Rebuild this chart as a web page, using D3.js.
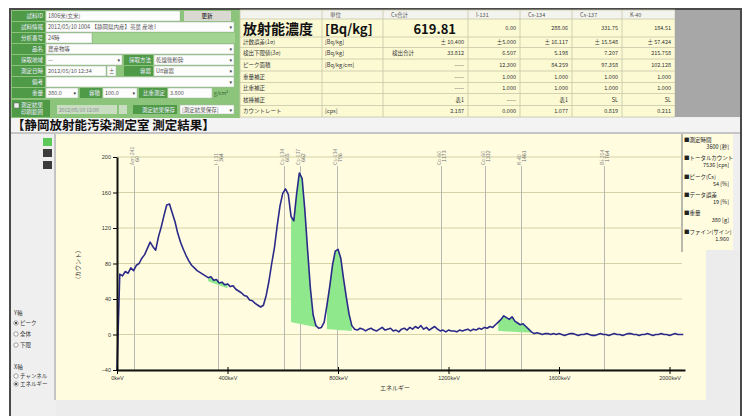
<!DOCTYPE html>
<meta charset="utf-8">
<style>
  body { margin: 0; background: #fff; }
  svg { display: block; font-family: "Noto Sans CJK JP", "DejaVu Sans", sans-serif; }
</style>
<body>
<script src="https://d3js.org/d3.v7.min.js"></script>
<script>

// ---- data ----

// gamma spectrum, counts per 10 keV channel (0 .. 2050 keV)
var channelKeV = 10;
var spectrumCounts = [
  -40, 68, 66, 71, 69, 75, 72, 78, 80, 86,
  90, 97, 104, 99, 95, 110, 121, 134, 146, 147,
  137, 127, 114, 104, 96, 89, 83, 78, 75, 72,
  70, 68, 66, 64, 65, 61, 62, 58, 59, 56,
  57, 54, 55, 51, 49, 47, 44, 43, 39, 38,
  35, 33, 31, 33, 44, 60, 80, 98, 123, 145,
  159, 164, 158, 133, 128, 158, 182, 176, 140, 95,
  52, 22, 10, 7, 8, 14, 33, 54, 78, 94,
  96, 86, 63, 42, 23, 10, 6, 5, 7, 6,
  4, 6, 7, 5, 4, 6, 8, 5, 6, 7,
  4, 5, 3, 6, 7, 5, 8, 6, 9, 7,
  10, 6, 8, 5, 7, 9, 6, 4, 5, 3,
  5, 4, 4, 3, 5, 4, 5, 6, 4, 6,
  5, 7, 6, 8, 7, 9, 8, 11, 14, 17,
  21, 19, 17, 20, 15, 13, 11, 12, 9, 6,
  3, 1, 2, 1, 0, 1, 1, 0, 1, 0,
  1, 0, -1, 0, 1, 1, 0, -1, 0, 0,
  1, 0, -1, -1, 0, 1, 0, 0, -1, 0,
  1, 0, 0, -1, 0, 1, 1, 0, 0, -1,
  0, 0, 1, 0, -1, 0, 0, 1, 0, 0,
  -1, 0, 1, 0, 0, 0
];

var xTicks = [0, 400, 800, 1200, 1600, 2000];
var yTicks = [-40, 0, 40, 80, 120, 160, 200];

// nuclide marker lines
var nuclideNames = ["Am-241", "I-131", "Cs-134", "Cs-137", "Cs-134", "Co-60", "Co-60", "K-40", "Bi-214"];
var nuclideKeV = [60, 364, 605, 662, 796, 1173, 1332, 1461, 1764];

// green ROI areas: keV range and baseline counts at each end
var roiStart = [330, 630, 760, 1380];
var roiEnd = [400, 725, 850, 1500];
var roiBaseStart = [60, 14, 6, 4];
var roiBaseEnd = [52, 8, 4, 2];

// right side legend
var legendNames = ["■測定時間", "■トータルカウント", "■ピーク(Cs)", "■データ誤差", "■重量", "■ファイン(サイン)"];
var legendValues = ["3600 [秒]", "7536 [cps]", "54 [%]", "19 [%]", "380 [g]", "1.960"];

// result table
var tableHeaders = ["", "単位", "Cs合計", "I-131", "Cs-134", "Cs-137", "K-40"];
var tableRows = [
  ["計数誤差(1σ)", "[Bq/kg]", "± 10.400", "±5.000", "± 16.117", "± 15.548", "± 57.424"],
  ["検出下限値(3σ)", "[Bq/kg]", "33.812", "6.507", "5.198", "7.207", "215.758"],
  ["ピーク面積", "[Bq/kg/cm]", "-----", "12.300", "84.259", "97.358", "102.128"],
  ["重量補正", "", "-----", "1.000", "1.000", "1.000", "1.000"],
  ["比重補正", "", "-----", "1.000", "1.000", "1.000", "1.000"],
  ["核種補正", "", "表1", "-----", "表1", "SL", "SL"],
  ["カウントレート", "[cps]", "2.187", "0.000", "1.077", "0.819", "0.211"]
];
var concentrationRow = ["放射能濃度", "[Bq/kg]", "619.81", "0.00", "288.06", "331.75", "184.51"];

// ---- drawing ----

var svg = d3.select("body").append("svg")
  .attr("width", 747)
  .attr("height", 416);

svg.append("rect").attr("width", 747).attr("height", 416).attr("fill", "#fff");

// app frame
svg.append("rect")
  .attr("x", 10).attr("y", 9).attr("width", 731).attr("height", 412)
  .attr("fill", "#efefef").attr("stroke", "#4a4a4a").attr("stroke-width", 2);

// ---------- form (top left) ----------
var form = svg.append("g");
form.append("rect").attr("x", 11).attr("y", 10).attr("width", 229).attr("height", 108).attr("fill", "#8cc47c");

function label(x, y, w, h, txt) {
  form.append("rect").attr("x", x).attr("y", y).attr("width", w).attr("height", h).attr("fill", "#4f9a47");
  form.append("text").attr("x", x + w - 2).attr("y", y + h / 2 + 2)
    .attr("text-anchor", "end").attr("font-size", 5.5).attr("fill", "#eef").text(txt);
}
function field(x, y, w, h, txt, dropdown) {
  form.append("rect").attr("x", x).attr("y", y).attr("width", w).attr("height", h)
    .attr("fill", "#fdfdfd").attr("stroke", "#a9b9a4").attr("stroke-width", 0.5);
  form.append("text").attr("x", x + 2).attr("y", y + h / 2 + 2)
    .attr("font-size", 5.5).attr("fill", "#555").text(txt);
  if (dropdown) {
    form.append("text").attr("x", x + w - 2).attr("y", y + h / 2 + 2)
      .attr("text-anchor", "end").attr("font-size", 5).attr("fill", "#333").text("▾");
  }
}

var ry = function (i) { return 11 + i * 11; };
label(12, ry(0), 33, 10, "試料ID");
field(46, ry(0), 134, 10, "1806米(玄米)");
form.append("rect").attr("x", 184).attr("y", ry(0)).attr("width", 47).attr("height", 10).attr("fill", "#d9d9d2");
form.append("text").attr("x", 207).attr("y", ry(0) + 7).attr("text-anchor", "middle").attr("font-size", 5.5).text("更新");

label(12, ry(1), 33, 10, "試料情報");
field(46, ry(1), 188, 10, "2012/05/10 1004 【静岡県内産】茶葉 産地 I", true);

label(12, ry(2), 33, 10, "分析番号");
field(46, ry(2), 46, 10, "24時");
form.append("rect").attr("x", 93).attr("y", ry(2)).attr("width", 142).attr("height", 10).attr("fill", "#a3d493");

label(12, ry(3), 33, 10, "品名");
field(46, ry(3), 188, 10, "農産物等", true);

label(12, ry(4), 33, 10, "採取地域");
field(46, ry(4), 76, 10, "—", true);
label(124, ry(4), 29, 10, "採取方法");
field(154, ry(4), 80, 10, "乾燥後粉砕", true);

label(12, ry(5), 33, 10, "測定日時");
field(46, ry(5), 60, 10, "2012/05/10 12:34");
field(107, ry(5), 9, 10, "±");
label(124, ry(5), 29, 10, "容器");
field(154, ry(5), 80, 10, "U8容器", true);

label(12, ry(6), 33, 10, "備考");
field(46, ry(6), 188, 10, "", true);

label(12, ry(7), 33, 10, "重量");
field(46, ry(7), 32, 10, "380.0", true);
label(80, ry(7), 22, 10, "容積");
field(103, ry(7), 34, 10, "100.0", true);
label(139, ry(7), 28, 10, "比重測定");
field(168, ry(7), 44, 10, "3.800");
form.append("text").attr("x", 214).attr("y", ry(7) + 7).attr("font-size", 5).attr("fill", "#2f5f2a").text("g/cm³");

form.append("rect").attr("x", 12).attr("y", 100).attr("width", 38).attr("height", 17).attr("fill", "#4f9a47");
form.append("rect").attr("x", 14).attr("y", 103).attr("width", 5).attr("height", 5).attr("fill", "#eee").attr("stroke", "#666").attr("stroke-width", 0.5);
form.append("text").attr("x", 21).attr("y", 107).attr("font-size", 5.5).attr("fill", "#eef").text("測定結果");
form.append("text").attr("x", 21).attr("y", 114).attr("font-size", 5.5).attr("fill", "#eef").text("印刷範囲");
form.append("rect").attr("x", 57).attr("y", 105).attr("width", 60).attr("height", 9).attr("fill", "#c9ddc1");
form.append("text").attr("x", 59).attr("y", 111.5).attr("font-size", 5).attr("fill", "#889").text("2012/05/10 12:00");
form.append("rect").attr("x", 119).attr("y", 105).attr("width", 8).attr("height", 9).attr("fill", "#c9ddc1");
label(133, 105, 44, 9, "測定結果保存");
field(180, 105, 54, 9, "[測定結果保存]", true);

// ---------- result table ----------
var cols = [240, 322, 383, 468, 520, 572, 622, 675];
var rowsY = [10, 19, 37, 47.5, 59, 71, 82.5, 93.5, 105.5, 117];
var table = svg.append("g").attr("font-size", 5.5).attr("fill", "#333");

table.append("rect").attr("x", 240).attr("y", 10).attr("width", 435).attr("height", 107).attr("fill", "#fcfad3");
table.append("rect").attr("x", 240).attr("y", 10).attr("width", 435).attr("height", 9).attr("fill", "#f4f4ef");
rowsY.forEach(function (r) {
  table.append("line").attr("x1", 240).attr("x2", 675).attr("y1", r).attr("y2", r)
    .attr("stroke", "#c8c6a8").attr("stroke-width", 0.8);
});
cols.forEach(function (c) {
  table.append("line").attr("x1", c).attr("x2", c).attr("y1", 10).attr("y2", 117)
    .attr("stroke", "#c8c6a8").attr("stroke-width", 0.8);
});

tableHeaders.forEach(function (h, i) {
  table.append("text").attr("x", cols[i] + 8).attr("y", 17).attr("fill", "#555").text(h);
});

// big concentration row
table.append("text").attr("x", 243).attr("y", 34).attr("font-size", 14).attr("font-weight", "bold")
  .attr("fill", "#111").text(concentrationRow[0]);
table.append("text").attr("x", 325).attr("y", 34).attr("font-size", 13).attr("font-weight", "bold")
  .attr("fill", "#111").text(concentrationRow[1]);
table.append("text").attr("x", cols[3] - 12).attr("y", 34).attr("text-anchor", "end")
  .attr("font-size", 13).attr("font-weight", "bold").attr("fill", "#111").text(concentrationRow[2]);
concentrationRow.slice(3).forEach(function (v, i) {
  table.append("text").attr("x", cols[i + 4] - 4).attr("y", 30).attr("text-anchor", "end").text(v);
});

tableRows.forEach(function (row, r) {
  var yy = (rowsY[r + 2] + rowsY[r + 3]) / 2 + 2;
  row.forEach(function (v, i) {
    if (i < 2) {
      table.append("text").attr("x", cols[i] + 3).attr("y", yy).text(v);
    } else {
      table.append("text").attr("x", cols[i + 1] - 4).attr("y", yy).attr("text-anchor", "end").text(v);
    }
  });
});
table.append("text").attr("x", 392).attr("y", (rowsY[3] + rowsY[4]) / 2 + 2).text("検出合計");

// grey block right of table
svg.append("rect").attr("x", 675).attr("y", 10).attr("width", 65).attr("height", 107).attr("fill", "#a7a7a7");

// ---------- title bar ----------
svg.append("rect").attr("x", 11).attr("y", 118).attr("width", 729).attr("height", 15).attr("fill", "#f3f3f3");
svg.append("line").attr("x1", 11).attr("x2", 740).attr("y1", 133).attr("y2", 133).attr("stroke", "#999");
svg.append("text").attr("x", 12).attr("y", 130)
  .attr("font-size", 12.5).attr("font-weight", "bold").attr("fill", "#111")
  .text("【静岡放射能汚染測定室 測定結果】");

// ---------- chart panel ----------
svg.append("rect").attr("x", 11).attr("y", 134).attr("width", 44).attr("height", 282).attr("fill", "#efefef");
svg.append("line").attr("x1", 55).attr("x2", 55).attr("y1", 134).attr("y2", 400).attr("stroke", "#9a9a9a");
svg.append("rect").attr("x", 56).attr("y", 134).attr("width", 650).attr("height", 266).attr("fill", "#fffcdf");
svg.append("rect").attr("x", 56).attr("y", 400).attr("width", 684).attr("height", 16).attr("fill", "#ececec");
svg.append("rect").attr("x", 706).attr("y", 250).attr("width", 34).attr("height", 150).attr("fill", "#ececec");

// small view buttons
svg.append("rect").attr("x", 43).attr("y", 138).attr("width", 9).attr("height", 8).attr("fill", "#5fc85a");
svg.append("rect").attr("x", 43).attr("y", 149).attr("width", 9).attr("height", 8).attr("fill", "#3c3c3c");
svg.append("rect").attr("x", 43).attr("y", 161).attr("width", 9).attr("height", 8).attr("fill", "#3c3c3c");

// radio options
var radios = svg.append("g").attr("font-size", 5.5).attr("fill", "#333");
function radio(yy, txt, on) {
  radios.append("circle").attr("cx", 16).attr("cy", yy - 2).attr("r", 2.2)
    .attr("fill", "#fff").attr("stroke", "#666").attr("stroke-width", 0.6);
  if (on) radios.append("circle").attr("cx", 16).attr("cy", yy - 2).attr("r", 1.1).attr("fill", "#222");
  radios.append("text").attr("x", 20).attr("y", yy).text(txt);
}
radios.append("text").attr("x", 14).attr("y", 315).text("Y軸");
radio(325, "ピーク", true);
radio(336, "全体", false);
radio(347, "下限", false);
radios.append("text").attr("x", 14).attr("y", 369).text("X軸");
radio(378, "チャンネル", false);
radio(386, "エネルギー", true);

// legend box
var legend = svg.append("g").attr("font-size", 5.5).attr("fill", "#222");
legend.append("rect").attr("x", 682).attr("y", 134).attr("width", 51).attr("height", 116).attr("fill", "#fffcdf");
legend.append("line").attr("x1", 682).attr("x2", 682).attr("y1", 134).attr("y2", 252).attr("stroke", "#777");
legendNames.forEach(function (n, i) {
  legend.append("text").attr("x", 684).attr("y", 142 + i * 18.3).text(n);
  legend.append("text").attr("x", 729).attr("y", 149 + i * 18.3).attr("text-anchor", "end").text(legendValues[i]);
});

// scales
var x = d3.scaleLinear().domain([0, 2056]).range([117, 685]);
var y = d3.scaleLinear().domain([-40, 200]).range([370, 157]);

var spectrum = spectrumCounts.map(function (v, i) { return { e: i * channelKeV, v: v }; });

// horizontal grid
svg.append("g").selectAll("line")
  .data(yTicks).enter().append("line")
  .attr("x1", 117).attr("x2", 682)
  .attr("y1", function (d) { return y(d); }).attr("y2", function (d) { return y(d); })
  .attr("stroke", "#d6d2a6").attr("stroke-width", 1);

// nuclide marker lines and labels
var markers = svg.append("g");
nuclideKeV.forEach(function (e, i) {
  var mx = Math.round(x(e)) + 0.5;
  markers.append("line").attr("x1", mx).attr("x2", mx).attr("y1", 166).attr("y2", 370)
    .attr("stroke", "#b9b9b3").attr("stroke-width", 1);
  markers.append("text").attr("transform", "translate(" + (mx - 1) + ",165) rotate(-90)")
    .attr("font-size", 5.2).attr("fill", "#8a8a8a").text(nuclideNames[i]);
  markers.append("text").attr("transform", "translate(" + (mx + 4.5) + ",162) rotate(-90)")
    .attr("font-size", 5.2).attr("fill", "#6a6a6a").text(e);
});

// green ROI fills
roiStart.forEach(function (a, i) {
  var b = roiEnd[i];
  var pts = spectrum.filter(function (d) { return d.e >= a && d.e <= b; });
  var base = d3.scaleLinear().domain([a, b]).range([roiBaseStart[i], roiBaseEnd[i]]);
  svg.append("path")
    .datum(pts)
    .attr("fill", "#8fe98c")
    .attr("d", d3.area()
      .x(function (d) { return x(d.e); })
      .y0(function (d) { return y(base(d.e)); })
      .y1(function (d) { return y(d.v); }));
});

// spectrum line
svg.append("path")
  .datum(spectrum)
  .attr("fill", "none")
  .attr("stroke", "#2a2a88")
  .attr("stroke-width", 1.6)
  .attr("stroke-linejoin", "round")
  .attr("d", d3.line()
    .x(function (d) { return x(d.e); })
    .y(function (d) { return y(d.v); }));

// y axis
var yAxis = svg.append("g")
  .attr("transform", "translate(117,0)")
  .call(d3.axisLeft(y).tickValues(yTicks).tickSize(4).tickSizeOuter(0));
yAxis.select(".domain").attr("stroke", "#111").attr("stroke-width", 2);
yAxis.selectAll("text").attr("font-size", 5.5).attr("fill", "#333").attr("x", -6);

// x axis
var xAxis = svg.append("g")
  .attr("transform", "translate(0,370)")
  .call(d3.axisBottom(x).tickValues(xTicks).tickSize(4).tickSizeOuter(0)
    .tickFormat(function (d) { return d + "keV"; }));
xAxis.select(".domain").attr("stroke", "#111").attr("stroke-width", 2);
xAxis.selectAll(".tick line").attr("y1", -3);
xAxis.selectAll("text").attr("font-size", 5.5).attr("fill", "#333").attr("y", 6);

// axis titles
svg.append("text").attr("x", 395).attr("y", 390).attr("text-anchor", "middle")
  .attr("font-size", 6).attr("fill", "#333").text("エネルギー");
svg.append("text").attr("transform", "translate(80,265) rotate(-90)").attr("text-anchor", "middle")
  .attr("font-size", 6).attr("fill", "#333").text("(カウント)");

</script>
</body>
